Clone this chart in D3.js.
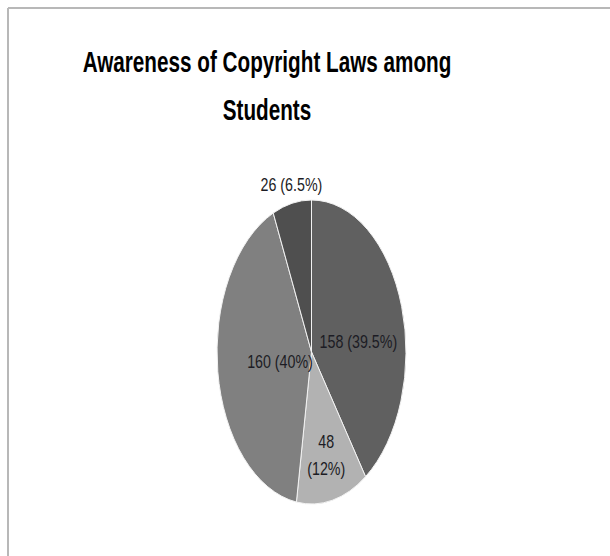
<!DOCTYPE html>
<html>
<head>
<meta charset="utf-8">
<script src="https://cdn.jsdelivr.net/npm/d3@7/dist/d3.min.js"></script>
<style>
  html, body { margin: 0; padding: 0; background: #fff; }
  svg { display: block; }
</style>
</head>
<body>
<script>
// ---- data ----
const categories = ["A", "B", "C", "D"];
const values = [158, 48, 160, 26];
const percentLabels = ["39.5%", "12%", "40%", "6.5%"];
const sliceColors = ["#606060", "#b2b2b2", "#808080", "#4f4f4f"];
const titleLines = ["Awareness of Copyright Laws among", "Students"];

// ---- layout ----
const W = 610, H = 556;
const cx = 311.5, cy = 352, rx = 94.5, ry = 152;
// label placement: radius factor (relative to pie radius), angular nudge (deg), line break
const labelLayout = [
  { r: 0.50, nudge: 10, lines: 1 },
  { r: 0.70, nudge: 0, lines: 2 },
  { r: 0.34, nudge: -4, lines: 1 },
  { r: 1.12, nudge: 1, lines: 1 }
];

const svg = d3.select("body").append("svg")
  .attr("width", W).attr("height", H);

// chart area border
svg.append("line").attr("x1", 8).attr("y1", 8).attr("x2", W).attr("y2", 8)
  .attr("stroke", "#b8b8b8").attr("stroke-width", 2);
svg.append("line").attr("x1", 8).attr("y1", 8).attr("x2", 8).attr("y2", H)
  .attr("stroke", "#b8b8b8").attr("stroke-width", 2);

// title
const titleG = svg.append("g");
const titleBaselines = [72, 120];
titleLines.forEach((t, i) => {
  titleG.append("text")
    .attr("transform", `translate(267,${titleBaselines[i]}) scale(0.69,1)`)
    .attr("text-anchor", "middle")
    .style("font-family", "'Liberation Sans', Arial, sans-serif")
    .style("font-weight", "bold")
    .style("font-size", "30px")
    .attr("fill", "#000")
    .text(t);
});

// pie
const pie = d3.pie().sort(null).value(d => d)(values);
const arc = d3.arc().innerRadius(0).outerRadius(rx);

const pieG = svg.append("g")
  .attr("transform", `translate(${cx},${cy}) scale(1,${ry / rx})`);

pieG.selectAll("path").data(pie).join("path")
  .attr("d", arc)
  .attr("fill", (d, i) => sliceColors[i])
  .attr("stroke", "#f2f2f2")
  .attr("stroke-width", 1)
  .attr("vector-effect", "non-scaling-stroke");

// labels
const labelG = svg.append("g");
pie.forEach((d, i) => {
  const L = labelLayout[i];
  const mid = (d.startAngle + d.endAngle) / 2 + L.nudge * Math.PI / 180;
  const x = cx + Math.sin(mid) * rx * L.r;
  const y = cy - Math.cos(mid) * ry * L.r;
  const lines = L.lines === 2
    ? [String(values[i]), `(${percentLabels[i]})`]
    : [`${values[i]} (${percentLabels[i]})`];
  const lh = 27;
  lines.forEach((s, j) => {
    const yy = y + 6 + (j - (lines.length - 1) / 2) * lh;
    labelG.append("text")
      .attr("transform", `translate(${x},${yy}) scale(0.75,1)`)
      .attr("text-anchor", "middle")
      .style("font-family", "'Liberation Sans', Arial, sans-serif")
      .style("font-size", "19px")
      .attr("fill", "#1c1c24")
      .text(s);
  });
});
</script>
</body>
</html>
